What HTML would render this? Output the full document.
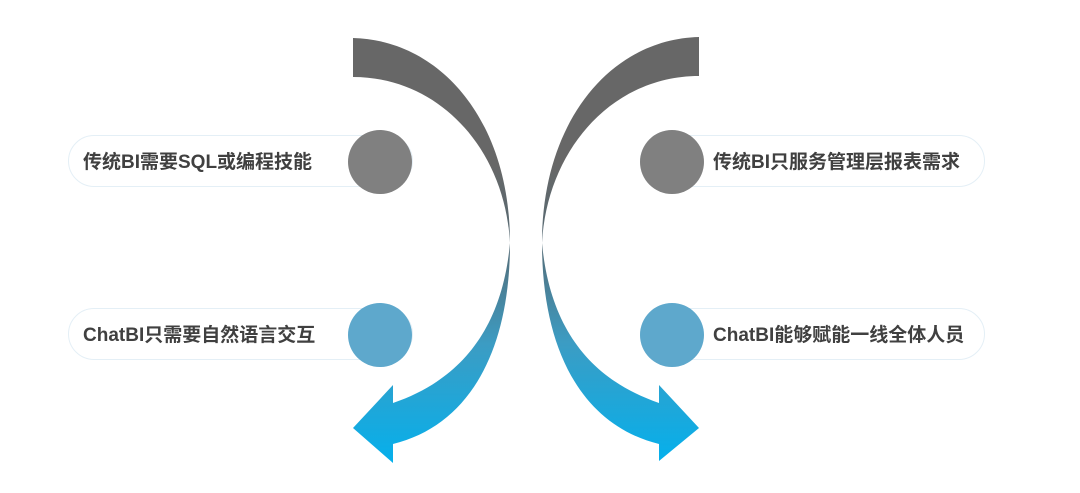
<!DOCTYPE html>
<html><head><meta charset="utf-8"><style>
body{margin:0;width:1080px;height:493px;background:#fff;position:relative;overflow:hidden;font-family:"Liberation Sans","Noto Sans CJK SC",sans-serif}
.p{position:absolute;height:52px;border:1.5px solid #e4eff6;border-radius:27px;box-sizing:border-box}
.t{position:absolute;font-size:19px;font-weight:bold;color:#404040;line-height:22px;white-space:nowrap}
.c{position:absolute;width:64px;height:64px;border-radius:50%}
</style></head><body>
<div class="p" style="left:68px;top:135px;width:345px"></div>
<div class="p" style="left:68px;top:308px;width:345px"></div>
<div class="p" style="left:640px;top:135px;width:345px"></div>
<div class="p" style="left:640px;top:308px;width:345px"></div>
<div class="t" style="left:83px;top:152px">传统BI需要SQL或编程技能</div>
<div class="t" style="left:83px;top:325px">ChatBI只需要自然语言交互</div>
<div class="t" style="left:713px;top:152px">传统BI只服务管理层报表需求</div>
<div class="t" style="left:713px;top:325px">ChatBI能够赋能一线全体人员</div>
<div class="c" style="left:348px;top:130px;background:#808080"></div>
<div class="c" style="left:348px;top:303px;background:#5ea8cc"></div>
<div class="c" style="left:640px;top:130px;background:#808080"></div>
<div class="c" style="left:640px;top:303px;background:#5ea8cc"></div>
<svg width="1080" height="493" style="position:absolute;left:0;top:0">
<defs><linearGradient id="g" x1="0" y1="0" x2="0" y2="1" gradientUnits="objectBoundingBox">
<stop offset="0.3" stop-color="#676767"/><stop offset="0.48" stop-color="#566a74"/><stop offset="0.72" stop-color="#3c9cc3"/><stop offset="1" stop-color="#05b0ec"/></linearGradient></defs>
<path fill="url(#g)" d="M353,38 C440,40 510,120 510,243 C510,350 470,425 393,444 L393,463 L353,428 L393,385 L393,403 C460,380 502,330 510,243 C505,150 440,77 353,77 Z"/>
<path fill="url(#g)" transform="translate(1052,0) scale(-1,1)" d="M353,37 C440,39 510,120 510,243 C510,350 470,425 393,444 L393,461 L353,428 L393,385 L393,403 C460,380 502,330 510,243 C505,150 440,76 353,76 Z"/>
</svg>
</body></html>
